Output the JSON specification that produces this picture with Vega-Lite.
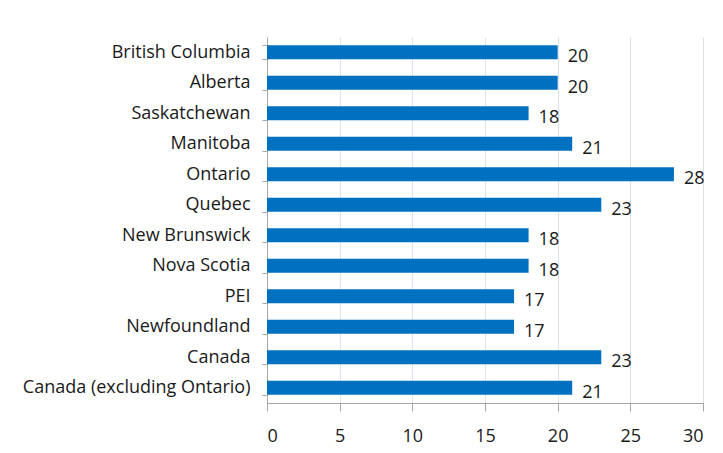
{
  "$schema": "https://vega.github.io/schema/vega-lite/v6.json",
  "autosize": "none",
  "width": 436,
  "height": 366,
  "padding": {"left": 267, "top": 37, "right": 20, "bottom": 50},
  "background": "white",
  "config": {"view": {"stroke": null}, "font": "Open Sans"},
  "data": {"values": [
    {"region": "British Columbia", "value": 20},
    {"region": "Alberta", "value": 20},
    {"region": "Saskatchewan", "value": 18},
    {"region": "Manitoba", "value": 21},
    {"region": "Ontario", "value": 28},
    {"region": "Quebec", "value": 23},
    {"region": "New Brunswick", "value": 18},
    {"region": "Nova Scotia", "value": 18},
    {"region": "PEI", "value": 17},
    {"region": "Newfoundland", "value": 17},
    {"region": "Canada", "value": 23},
    {"region": "Canada (excluding Ontario)", "value": 21}
  ]},
  "encoding": {
    "y": {"field": "region", "type": "nominal", "sort": null,
      "scale": {"paddingInner": 0.54, "paddingOuter": 0.27},
      "axis": {"title": null, "ticks": true, "tickBand": "extent", "tickSize": 5, "tickColor": "#a6a6a6", "domain": true, "domainColor": "#a6a6a6", "labelFontSize": 18, "labelColor": "#1a1a1a", "labelPadding": 12, "labelLimit": 0, "labelFont": "Open Sans"}},
    "x": {"field": "value", "type": "quantitative",
      "scale": {"domain": [0, 30]},
      "axis": {"title": null, "values": [0, 5, 10, 15, 20, 25, 30], "grid": true, "gridColor": "#dbe2ec", "domainColor": "#a6a6a6", "tickColor": "#a6a6a6", "tickSize": 8, "labelFontSize": 18, "labelColor": "#1a1a1a", "labelPadding": 16, "labelFont": "Open Sans"}}
  },
  "layer": [
    {"mark": {"type": "bar", "color": "#0070C0"}},
    {"mark": {"type": "text", "align": "left", "dx": 10, "dy": 5, "fontSize": 18, "color": "#1a1a1a", "font": "Open Sans"},
     "encoding": {"text": {"field": "value", "type": "quantitative"}}}
  ]
}
